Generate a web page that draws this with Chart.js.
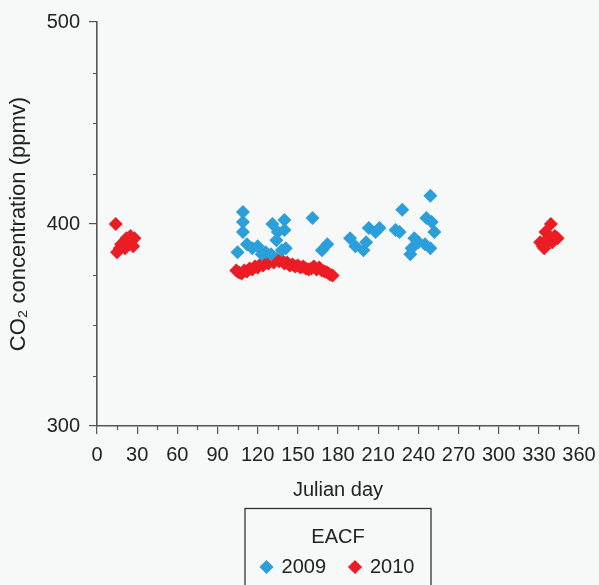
<!DOCTYPE html>
<html>
<head>
<meta charset="utf-8">
<script src="https://cdn.jsdelivr.net/npm/chart.js@4/dist/chart.umd.min.js"></script>
<style>
  html, body { margin: 0; padding: 0; background: #f7f8f8; }
  #wrap { width: 599px; height: 585px; }
</style>
</head>
<body>
<div id="wrap"><canvas id="myChart" width="599" height="585"></canvas></div>
<script>
'use strict';

// 2009 series (blue)
var days2009 = [105, 109, 109, 109, 112, 116, 120, 123, 126, 130, 131, 134, 135, 138, 140, 140, 141, 161, 168, 172,
  189, 193, 199, 201, 203, 208, 211, 223, 226, 228, 234, 235, 237, 240, 245, 246, 249, 249, 250, 252];
var co2_2009 = [386, 406, 401, 396, 390, 388, 389, 385, 386, 385, 400, 392, 396, 387, 402, 397, 388, 403, 387, 390,
  393, 389, 387, 391, 398, 396, 398, 397, 396, 407, 385, 388, 393, 391, 390, 403, 414, 388, 401, 396];

// 2010 series (red)
var days2010 = [14, 15, 17, 18, 20, 21, 22, 24, 25, 26, 27, 28,
  104, 106, 108, 110, 112, 114, 116, 118, 120, 122, 124, 126, 128, 130, 132, 134, 136, 138, 140, 142, 144, 146,
  148, 150, 152, 154, 156, 158, 160, 162, 164, 166, 168, 170, 172, 174, 176,
  331, 333, 334, 335, 337, 339, 340, 342, 344];
var co2_2010 = [400, 386, 388, 390, 391, 388, 393, 390, 394, 392, 389, 393,
  377, 376, 375.5, 377, 376.5, 378, 377.5, 379, 378.5, 380, 379.5, 381, 380.5, 382, 381, 382.5, 381.5, 382, 380.5, 381, 379.5, 380,
  379, 379.5, 378.5, 379, 378, 377.5, 378, 379, 377.5, 378.5, 377, 376.5, 376, 375, 374.5,
  391, 389, 388, 396, 393, 400, 391, 394, 393];

var yTicks = [300, 400, 500];
var xTicks = [0, 30, 60, 90, 120, 150, 180, 210, 240, 270, 300, 330, 360];

function toPoints(xs, ys) {
  var out = [];
  for (var i = 0; i < xs.length; i++) {
    out.push({x: xs[i], y: ys[i]});
  }
  return out;
}

var axisColor = '#555';
var textColor = '#222';
var fontFamily = '"Liberation Sans", Arial, Helvetica, sans-serif';

// small in-between ticks (every 25 ppmv, every 15 days)
var minorTicks = {
  id: 'minorTicks',
  afterDraw: function (chart) {
    var ctx = chart.ctx;
    var xs = chart.scales.x, ys = chart.scales.y;
    ctx.save();
    ctx.strokeStyle = axisColor;
    ctx.lineWidth = 1.2;
    ctx.beginPath();
    for (var v = ys.min; v <= ys.max; v += 25) {
      if (v % 100 === 0) continue;
      var py = Math.round(ys.getPixelForValue(v)) + 0.5;
      ctx.moveTo(ys.right, py);
      ctx.lineTo(ys.right - 4, py);
    }
    for (var d = xs.min; d <= xs.max; d += 15) {
      if (d % 30 === 0) continue;
      var px = Math.round(xs.getPixelForValue(d)) + 0.5;
      ctx.moveTo(px, xs.top);
      ctx.lineTo(px, xs.top + 4);
    }
    ctx.stroke();
    ctx.restore();
  }
};

// frame around the legend
var legendFrame = {
  id: 'legendFrame',
  afterDraw: function (chart) {
    var lg = chart.legend;
    if (!lg) return;
    var ctx = chart.ctx;
    var cx = (lg.left + lg.right) / 2;
    ctx.save();
    ctx.strokeStyle = '#333';
    ctx.lineWidth = 1.3;
    ctx.strokeRect(cx - 93, 508.5, 186, chart.height);
    ctx.restore();
  }
};

var ctx = document.getElementById('myChart').getContext('2d');

var myChart = new Chart(ctx, {
  type: 'scatter',
  data: {
    datasets: [{
      label: '2009',
      data: toPoints(days2009, co2_2009),
      backgroundColor: '#2b9fd9',
      borderColor: '#2b9fd9',
      borderWidth: 0,
      pointStyle: 'rectRot',
      pointRadius: 7,
      pointHoverRadius: 7
    }, {
      label: '2010',
      data: toPoints(days2010, co2_2010),
      backgroundColor: '#ec1c24',
      borderColor: '#ec1c24',
      borderWidth: 0,
      pointStyle: 'rectRot',
      pointRadius: 7,
      pointHoverRadius: 7
    }]
  },
  options: {
    responsive: false,
    animation: false,
    layout: { padding: { top: 22, right: 20, left: 0, bottom: -2 } },
    scales: {
      x: {
        type: 'linear',
        min: 0,
        max: 360,
        afterBuildTicks: function (scale) {
          scale.ticks = xTicks.map(function (v) { return {value: v}; });
        },
        afterFit: function (scale) {
          scale.height = 83;
          scale.paddingRight = 0;
          scale.paddingLeft = 0;
        },
        ticks: { color: textColor, font: { family: fontFamily, size: 20 }, padding: 9, maxRotation: 0, autoSkip: false },
        grid: { drawOnChartArea: false, tickLength: 8, color: axisColor, lineWidth: 1.2 },
        border: { color: axisColor, width: 1.6 },
        title: { display: true, text: 'Julian day', color: textColor, font: { family: fontFamily, size: 20 }, padding: { top: 4, bottom: 7 } }
      },
      y: {
        type: 'linear',
        min: 300,
        max: 500,
        afterBuildTicks: function (scale) {
          scale.ticks = yTicks.map(function (v) { return {value: v}; });
        },
        afterFit: function (scale) { scale.width = 97; },
        ticks: { color: textColor, font: { family: fontFamily, size: 20 }, padding: 9 },
        grid: { drawOnChartArea: false, tickLength: 8, color: axisColor, lineWidth: 1.2 },
        border: { color: axisColor, width: 1.6 },
        title: { display: true, text: 'CO\u2082 concentration (ppmv)', color: textColor, font: { family: fontFamily, size: 22 }, padding: { top: 6, bottom: 4 } }
      }
    },
    plugins: {
      tooltip: { enabled: false },
      legend: {
        position: 'bottom',
        fullSize: false,
        title: { display: true, text: 'EACF', color: textColor, font: { family: fontFamily, size: 20 }, padding: { top: 18, bottom: -18 } },
        labels: {
          color: textColor,
          font: { family: fontFamily, size: 20 },
          usePointStyle: true,
          pointStyle: 'rectRot',
          boxWidth: 10,
          boxHeight: 10,
          padding: 24
        }
      }
    }
  },
  plugins: [minorTicks, legendFrame]
});
</script>
</body>
</html>
